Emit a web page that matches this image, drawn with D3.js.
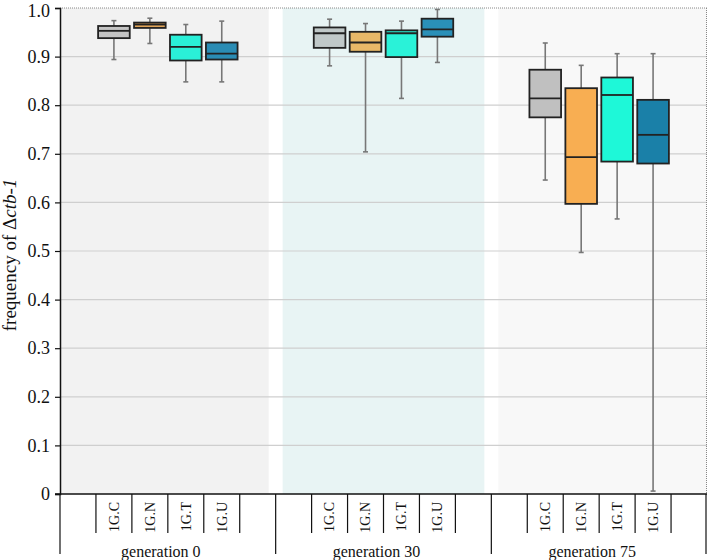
<!DOCTYPE html>
<html>
<head>
<meta charset="utf-8">
<script src="https://cdn.jsdelivr.net/npm/d3@7"></script>
<style>
  body { margin: 0; background: #fff; }
  svg text { font-family: "Liberation Serif", "DejaVu Serif", serif; fill: #111; }
</style>
</head>
<body>
<svg id="chart" width="708" height="560"></svg>
<script>
// ---- data ----
const generations = ["generation 0", "generation 30", "generation 75"];
const categories = ["1G.C", "1G.N", "1G.T", "1G.U"];
const yTicks = [0, 0.1, 0.2, 0.3, 0.4, 0.5, 0.6, 0.7, 0.8, 0.9, 1.0];
// box stats per generation, per category: [whiskerLow, q1, median, q3, whiskerHigh]
const gen0 = [
  [0.894, 0.938, 0.953, 0.963, 0.974],
  [0.927, 0.959, 0.966, 0.970, 0.979],
  [0.848, 0.892, 0.920, 0.945, 0.966],
  [0.848, 0.894, 0.906, 0.929, 0.973]
];
const gen30 = [
  [0.881, 0.918, 0.948, 0.960, 0.977],
  [0.704, 0.910, 0.929, 0.951, 0.968],
  [0.814, 0.899, 0.948, 0.954, 0.973],
  [0.888, 0.941, 0.956, 0.978, 0.997]
];
const gen75 = [
  [0.646, 0.775, 0.814, 0.873, 0.928],
  [0.497, 0.597, 0.693, 0.835, 0.882],
  [0.566, 0.684, 0.821, 0.857, 0.906],
  [0.006, 0.680, 0.739, 0.811, 0.906]
];
const stats = [gen0, gen30, gen75];

// ---- styles ----
const panelColors = ["#f2f2f2", "#e8f4f4", "#f8f8f8"];
const boxColors = [
  ["#c4c4c4", "#e0a458", "#2af0d8", "#2a8cb4"],
  ["#c0c8c8", "#e8b868", "#2af2d8", "#2a90b8"],
  ["#c0c0c0", "#f8ae52", "#1ef8d8", "#1a80a8"]
];
const FONT = '"Liberation Serif", "DejaVu Serif", serif';

const svg = d3.select("#chart");
const mLeft = 60, mRight = 707, mTop = 8, mBottom = 494;

const y = d3.scaleLinear().domain([0, 1]).range([mBottom, mTop]);
const xGroup = d3.scaleBand().domain(generations).range([mLeft, mRight]).padding(0);
const slots = ["padL"].concat(categories, ["padR"]);
const xSlot = d3.scaleBand().domain(slots).range([0, xGroup.bandwidth()]).padding(0);

// panels
svg.append("clipPath").attr("id", "plotclip")
  .append("rect").attr("x", mLeft).attr("y", mTop).attr("width", mRight - mLeft).attr("height", mBottom - mTop);

svg.append("g").attr("clip-path", "url(#plotclip)")
  .selectAll("rect").data(generations).join("rect")
  .attr("x", d => xGroup(d) + 7)
  .attr("width", xGroup.bandwidth() - 14)
  .attr("y", mTop).attr("height", mBottom - mTop)
  .attr("fill", (d, i) => panelColors[i]);

svg.append("rect").attr("x", mLeft).attr("y", mTop).attr("width", 7).attr("height", mBottom - mTop).attr("fill", panelColors[0]);
svg.append("rect").attr("x", mRight - 7).attr("y", mTop).attr("width", 7).attr("height", mBottom - mTop).attr("fill", panelColors[2]);

// grid lines
svg.append("g").selectAll("line").data(yTicks.filter(t => t > 0 && t < 1)).join("line")
  .attr("x1", mLeft).attr("x2", mRight)
  .attr("y1", d => y(d)).attr("y2", d => y(d))
  .attr("stroke", "#cfcfcf").attr("stroke-width", 1.2);

// top & right dotted border
svg.append("line").attr("x1", mLeft).attr("x2", mRight).attr("y1", mTop).attr("y2", mTop)
  .attr("stroke", "#888").attr("stroke-width", 1).attr("stroke-dasharray", "1,1");
svg.append("line").attr("x1", mRight - 0.5).attr("x2", mRight - 0.5).attr("y1", mTop).attr("y2", mBottom)
  .attr("stroke", "#888").attr("stroke-width", 1).attr("stroke-dasharray", "1,1");

// boxes
const boxW = xSlot.bandwidth() * 0.88;
generations.forEach((g, gi) => {
  const gg = svg.append("g");
  categories.forEach((c, ci) => {
    const s = stats[gi][ci];
    const cx = xGroup(g) + xSlot(c) + xSlot.bandwidth() / 2;
    gg.append("line").attr("x1", cx).attr("x2", cx).attr("y1", y(s[0])).attr("y2", y(s[1]))
      .attr("stroke", "#777").attr("stroke-width", 1.6);
    gg.append("line").attr("x1", cx).attr("x2", cx).attr("y1", y(s[3])).attr("y2", y(s[4]))
      .attr("stroke", "#777").attr("stroke-width", 1.6);
    [s[0], s[4]].forEach(v => {
      gg.append("line").attr("x1", cx - 2.5).attr("x2", cx + 2.5).attr("y1", y(v)).attr("y2", y(v))
        .attr("stroke", "#777").attr("stroke-width", 1.6);
    });
    gg.append("rect").attr("x", cx - boxW / 2).attr("width", boxW)
      .attr("y", y(s[3])).attr("height", y(s[1]) - y(s[3]))
      .attr("fill", boxColors[gi][ci]).attr("stroke", "#222").attr("stroke-width", 1.8);
    gg.append("line").attr("x1", cx - boxW / 2).attr("x2", cx + boxW / 2)
      .attr("y1", y(s[2])).attr("y2", y(s[2]))
      .attr("stroke", "#222").attr("stroke-width", 1.8);
  });
});

// y axis
const yAxis = d3.axisLeft(y).tickValues(yTicks).tickSize(5).tickPadding(5)
  .tickFormat(d => d === 0 ? "0" : d3.format(".1f")(d));
const ya = svg.append("g").attr("transform", `translate(${mLeft},0)`).call(yAxis)
  .attr("font-family", FONT).attr("font-size", 18);
ya.select(".domain").attr("stroke", "#111").attr("stroke-width", 1.5);
ya.selectAll(".tick line").attr("stroke", "#111").attr("stroke-width", 1.2);
ya.selectAll(".tick text").attr("fill", "#111")
  .filter(d => d === 1).attr("dy", "0.46em");

// y label
const yl = svg.append("text")
  .attr("transform", `translate(16,255) rotate(-90)`)
  .attr("text-anchor", "middle").attr("font-family", FONT).attr("font-size", 19);
yl.append("tspan").text("frequency of Δ");
yl.append("tspan").attr("font-style", "italic").text("ctb-1");

// bottom axis line
svg.append("line").attr("x1", mLeft - 5).attr("x2", mRight).attr("y1", mBottom).attr("y2", mBottom)
  .attr("stroke", "#111").attr("stroke-width", 1.5);

// category ticks and labels
generations.forEach((g) => {
  const bounds = categories.map(c => xGroup(g) + xSlot(c)).concat([xGroup(g) + xSlot("padR")]);
  svg.append("g").selectAll("line").data(bounds).join("line")
    .attr("x1", d => d).attr("x2", d => d).attr("y1", mBottom).attr("y2", mBottom + 39)
    .attr("stroke", "#111").attr("stroke-width", 1.2);
  svg.append("g").selectAll("text").data(categories).join("text")
    .attr("transform", c => `translate(${xGroup(g) + xSlot(c) + xSlot.bandwidth() / 2},${mBottom + 8}) rotate(-90)`)
    .attr("text-anchor", "end").attr("dy", "0.35em")
    .attr("font-family", FONT).attr("font-size", 14)
    .text(c => c);
});

// group separators
const seps = generations.map(g => xGroup(g)).concat([mRight - 1]);
svg.append("g").selectAll("line").data(seps).join("line")
  .attr("x1", d => d).attr("x2", d => d).attr("y1", mBottom).attr("y2", mBottom + 60)
  .attr("stroke", "#111").attr("stroke-width", 1.2);

// group labels
svg.append("g").selectAll("text").data(generations).join("text")
  .attr("x", g => xGroup(g) + xGroup.bandwidth() / 2 - 7)
  .attr("y", 557).attr("text-anchor", "middle")
  .attr("font-family", FONT).attr("font-size", 16)
  .text(g => g);
</script>
</body>
</html>
